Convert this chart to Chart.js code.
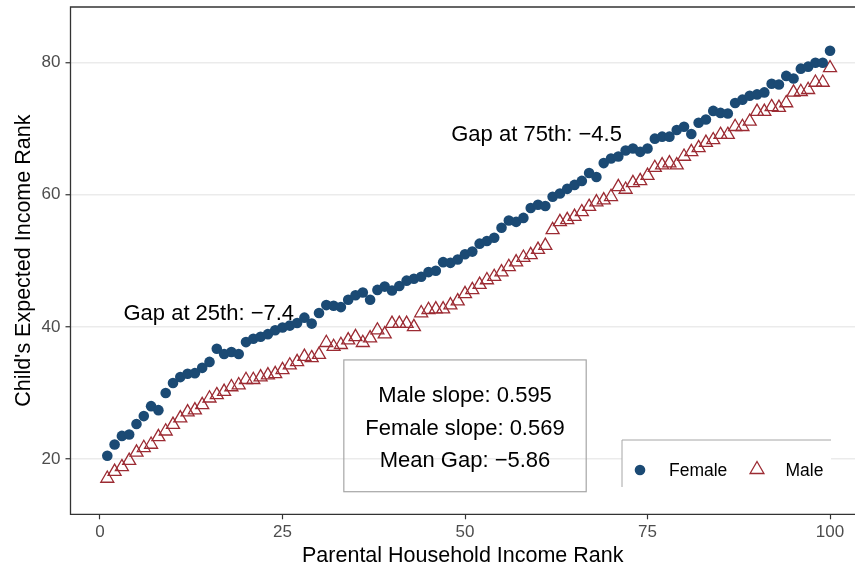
<!DOCTYPE html>
<html>
<head>
<meta charset="utf-8">
<title>Child's Expected Income Rank</title>
<script src="https://cdn.jsdelivr.net/npm/chart.js@4.4.1/dist/chart.umd.min.js"></script>
<style>
  html, body { margin: 0; padding: 0; overflow: hidden; background: #fff; }
  canvas { display: block; }
</style>
</head>
<body>
<canvas id="gapChart" width="855" height="567"></canvas>
<script>
// parental household income rank (x)
const ranks = [
  1, 2, 3, 4, 5, 6, 7, 8, 9, 10,
  11, 12, 13, 14, 15, 16, 17, 18, 19, 20,
  21, 22, 23, 24, 25, 26, 27, 28, 29, 30,
  31, 32, 33, 34, 35, 36, 37, 38, 39, 40,
  41, 42, 43, 44, 45, 46, 47, 48, 49, 50,
  51, 52, 53, 54, 55, 56, 57, 58, 59, 60,
  61, 62, 63, 64, 65, 66, 67, 68, 69, 70,
  71, 72, 73, 74, 75, 76, 77, 78, 79, 80,
  81, 82, 83, 84, 85, 86, 87, 88, 89, 90,
  91, 92, 93, 94, 95, 96, 97, 98, 99, 100
];

// child's expected income rank, daughters
const female = [
  20.5, 22.2, 23.5, 23.7, 25.3, 26.5, 28.0, 27.4, 30.0, 31.5,
  32.4, 32.9, 33.0, 33.8, 34.7, 36.7, 35.9, 36.2, 35.9, 37.7,
  38.2, 38.5, 38.9, 39.5, 39.9, 40.2, 40.6, 41.4, 40.5, 42.1,
  43.3, 43.2, 43.0, 44.1, 44.8, 45.2, 44.1, 45.6, 46.1, 45.5,
  46.2, 47.0, 47.3, 47.6, 48.3, 48.5, 49.8, 49.7, 50.2, 51.0,
  51.4, 52.6, 53.0, 53.5, 55.0, 56.1, 55.9, 56.5, 58.0, 58.5,
  58.3, 59.7, 60.2, 60.9, 61.5, 62.1, 63.3, 62.7, 64.8, 65.5,
  65.8, 66.7, 67.0, 66.5, 67.0, 68.5, 68.8, 68.8, 69.8, 70.3,
  69.2, 70.9, 71.4, 72.7, 72.4, 72.3, 73.9, 74.4, 75.0, 75.2,
  75.5, 76.8, 76.7, 78.0, 77.6, 79.1, 79.4, 80.0, 80.0, 81.8
];

// child's expected income rank, sons
const male = [
  17.05, 18.1, 18.8, 19.75, 21.0, 21.7, 22.2, 23.35, 24.2, 25.2,
  26.2, 27.1, 27.4, 28.2, 29.2, 29.7, 30.2, 30.9, 31.2, 32.0,
  32.0, 32.4, 32.7, 32.9, 33.5, 34.2, 34.7, 35.5, 35.3, 35.8,
  37.6, 37.0, 37.3, 38.0, 38.5, 37.6, 38.3, 39.5, 38.9, 40.5,
  40.5, 40.5, 40.0, 42.1, 42.6, 42.7, 42.7, 43.3, 43.9, 45.0,
  45.6, 46.4, 47.1, 47.6, 48.3, 49.1, 49.8, 50.5, 50.9, 51.7,
  52.3, 54.7, 55.9, 56.2, 56.7, 57.4, 58.2, 58.9, 59.2, 59.7,
  61.2, 60.8, 61.8, 62.1, 62.9, 64.1, 64.5, 64.8, 64.5, 65.8,
  66.5, 67.1, 67.9, 68.3, 69.1, 69.1, 70.3, 70.3, 71.1, 72.6,
  72.6, 73.3, 73.2, 73.9, 75.5, 75.6, 75.9, 77.0, 77.0, 79.2
];

const xTicks = [0, 25, 50, 75, 100];
const yTicks = [20, 40, 60, 80];

const gapNotes = [
  { text: "Gap at 25th: \u22127.4", x: 14.9, y: 41.1 },
  { text: "Gap at 75th: \u22124.5", x: 59.8, y: 68.2 }
];

const statLines = [
  { text: "Male slope: 0.595", y: 28.7 },
  { text: "Female slope: 0.569", y: 23.7 },
  { text: "Mean Gap: \u22125.86", y: 18.8 }
];

const FONT = '"Liberation Sans", Arial, Helvetica, sans-serif';
const femaleColor = "#1b4a74";
const maleColor = "#9c2b33";

// keep the panel exactly where the layout padding puts it
function fixBox(scale, size) {
    if (scale.isHorizontal()) scale.height = size; else scale.width = size;
    scale.paddingTop = 0;
    scale.paddingBottom = 0;
    scale.paddingLeft = 0;
    scale.paddingRight = 0;
}

// text labels, stats box, panel border and legend
const overlay = {
    id: "overlay",
    afterDatasetsDraw(chart) {
        const ctx = chart.ctx;
        const a = chart.chartArea;
        const xs = chart.scales.x;
        const ys = chart.scales.y;

        ctx.save();
        ctx.fillStyle = "#000";
        ctx.font = "22px " + FONT;
        ctx.textAlign = "center";
        ctx.textBaseline = "alphabetic";
        gapNotes.forEach(function (n) {
            ctx.fillText(n.text, xs.getPixelForValue(n.x), ys.getPixelForValue(n.y));
        });

        // stats box
        const bx0 = xs.getPixelForValue(33.4), bx1 = xs.getPixelForValue(66.6);
        const by0 = ys.getPixelForValue(35.0), by1 = ys.getPixelForValue(15.05);
        ctx.strokeStyle = "#a6a6a6";
        ctx.lineWidth = 1.2;
        ctx.strokeRect(bx0, by0, bx1 - bx0, by1 - by0);
        statLines.forEach(function (s) {
            ctx.fillText(s.text, xs.getPixelForValue(50), ys.getPixelForValue(s.y));
        });

        // panel border (right side falls outside the picture)
        ctx.strokeStyle = "#333";
        ctx.lineWidth = 1.3;
        ctx.beginPath();
        ctx.moveTo(a.right + 2, a.top);
        ctx.lineTo(a.left, a.top);
        ctx.lineTo(a.left, a.bottom);
        ctx.lineTo(a.right + 2, a.bottom);
        ctx.stroke();

        // legend
        const lx = 622, ly = 440;
        ctx.fillStyle = "#fff";
        ctx.fillRect(lx, ly, 209, 60);
        ctx.strokeStyle = "#a6a6a6";
        ctx.lineWidth = 1;
        ctx.beginPath();
        ctx.moveTo(lx, ly + 47);
        ctx.lineTo(lx, ly);
        ctx.lineTo(lx + 209, ly);
        ctx.stroke();

        const ds = chart.data.datasets;
        ctx.fillStyle = ds[0].backgroundColor;
        Chart.helpers.drawPoint(ctx, { pointStyle: "circle", radius: 5.3, borderWidth: 0 }, 640, 470);
        ctx.fillStyle = "rgba(0,0,0,0)";
        ctx.strokeStyle = ds[1].borderColor;
        ctx.lineWidth = ds[1].borderWidth;
        Chart.helpers.drawPoint(ctx, { pointStyle: "triangle", radius: 8, borderWidth: ds[1].borderWidth }, 757, 469.5);

        ctx.fillStyle = "#000";
        ctx.font = "17.5px " + FONT;
        ctx.textAlign = "left";
        ctx.fillText(ds[0].label, 669, 476);
        ctx.fillText(ds[1].label, 785.5, 476);
        ctx.restore();
    }
};

document.addEventListener("DOMContentLoaded", function () {
    const canvas = document.getElementById("gapChart");
    const ctx = canvas.getContext("2d");

    new Chart(ctx, {
        type: "scatter",
        data: {
            datasets: [{
                label: "Female",
                data: ranks.map(function (r, i) { return { x: r, y: female[i] }; }),
                backgroundColor: femaleColor,
                borderWidth: 0,
                pointStyle: "circle",
                pointRadius: 5.3
            }, {
                label: "Male",
                data: ranks.map(function (r, i) { return { x: r, y: male[i] }; }),
                backgroundColor: "rgba(0,0,0,0)",
                borderColor: maleColor,
                borderWidth: 1.3,
                pointStyle: "triangle",
                pointRadius: 7.5
            }]
        },
        options: {
            responsive: false,
            animation: false,
            events: [],
            layout: {
                autoPadding: false,
                padding: { top: 7, right: 0, left: 0, bottom: 0 }
            },
            plugins: {
                legend: { display: false },
                tooltip: { enabled: false }
            },
            scales: {
                x: {
                    type: "linear",
                    min: -4.04,
                    max: 103.42,
                    afterFit: function (scale) { fixBox(scale, 52.7); },
                    afterBuildTicks: function (scale) {
                        scale.ticks = xTicks.map(function (v) { return { value: v }; });
                    },
                    border: { display: false },
                    grid: {
                        drawOnChartArea: false,
                        tickColor: "#333",
                        tickLength: 5,
                        tickWidth: 1.2
                    },
                    ticks: {
                        color: "#4d4d4d",
                        font: { family: FONT, size: 17 },
                        padding: 2.5,
                        maxRotation: 0
                    },
                    title: {
                        display: true,
                        text: "Parental Household Income Rank",
                        color: "#000",
                        font: { family: FONT, size: 21.5, lineHeight: 1.05 },
                        padding: { top: 0, bottom: 0 }
                    }
                },
                y: {
                    type: "linear",
                    min: 11.63,
                    max: 88.43,
                    afterFit: function (scale) { fixBox(scale, 70.5); },
                    afterBuildTicks: function (scale) {
                        scale.ticks = yTicks.map(function (v) { return { value: v }; });
                    },
                    border: { display: false },
                    grid: {
                        color: "#ebebeb",
                        lineWidth: 1.5,
                        tickColor: "#333",
                        tickLength: 5,
                        tickWidth: 1.2
                    },
                    ticks: {
                        color: "#4d4d4d",
                        font: { family: FONT, size: 17 },
                        padding: 5
                    },
                    title: {
                        display: true,
                        text: "Child's Expected Income Rank",
                        color: "#000",
                        font: { family: FONT, size: 21.5, lineHeight: 1.2 },
                        padding: { top: 11, bottom: 0 }
                    }
                }
            }
        },
        plugins: [overlay]
    });
});
</script>
</body>
</html>
